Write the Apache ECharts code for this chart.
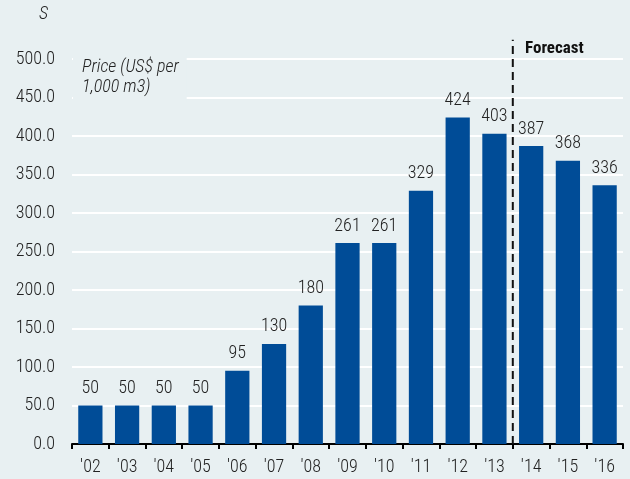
<!DOCTYPE html>
<html>
<head>
<meta charset="utf-8">
<script src="https://cdn.jsdelivr.net/npm/echarts@6/dist/echarts.min.js"></script>
<style>
  html, body { margin: 0; padding: 0; background: #e8f0f2; }
  #chart { width: 630px; height: 479px; }
</style>
</head>
<body>
<div id="chart"></div>
<script>
// gas price, actual to '13 then forecast
const years = ["'02", "'03", "'04", "'05", "'06", "'07", "'08", "'09", "'10", "'11", "'12", "'13", "'14", "'15", "'16"];
const prices = [50, 50, 50, 50, 95, 130, 180, 261, 261, 329, 424, 403, 387, 368, 336];
const priceLabels = ['50', '50', '50', '50', '95', '130', '180', '261', '261', '329', '424', '403', '387', '368', '336'];
const yTicks = [0, 50, 100, 150, 200, 250, 300, 350, 400, 450, 500];
const forecastStart = 12;   // boundary index between '13 and '14
const dashTop = 525;

const fontFam = '"Roboto Condensed", "Liberation Sans", sans-serif';
const bg = '#e8f0f2';
var chart = echarts.init(document.getElementById('chart'));

var option = {
    backgroundColor: bg,
    animation: false,
    grid: { left: 72, right: 7, top: 59, bottom: 35 },
    xAxis: [{
        type: 'category',
        data: years,
        axisLine: { lineStyle: { color: '#000', width: 2 } },
        axisTick: { show: true, length: 5, lineStyle: { color: '#000', width: 2 } },
        axisLabel: { color: '#222', fontSize: 18, fontWeight: 300, fontFamily: fontFam, margin: 14 }
    }, {
        type: 'value',
        min: 0,
        max: years.length,
        show: false
    }],
    yAxis: {
        type: 'value',
        min: yTicks[0],
        max: yTicks[yTicks.length - 1],
        interval: 50,
        axisLine: { show: false },
        axisTick: { show: false },
        splitLine: { lineStyle: { color: '#ffffff', width: 2 } },
        axisLabel: {
            color: '#222', fontSize: 18, fontWeight: 300, fontFamily: fontFam, margin: 17,
            padding: [4, 0, 0, 0],
            formatter: function (v) { return v.toFixed(1); }
        }
    },
    series: [{
        type: 'bar',
        data: prices,
        barWidth: '66%',
        itemStyle: { color: '#004c97' },
        label: {
            show: true,
            position: 'top',
            distance: 8,
            color: '#222',
            fontSize: 18,
            fontWeight: 300,
            fontFamily: fontFam,
            formatter: function (p) { return priceLabels[p.dataIndex]; }
        }
    }, {
        type: 'line',
        xAxisIndex: 1,
        data: []
    }],
    graphic: [{
        id: 'unit', type: 'text', left: 39, top: 5,
        style: { text: 'S', font: 'italic 300 18px ' + fontFam, fill: '#222' }
    }, {
        id: 'note', type: 'text', left: 73, top: 54, z: 5,
        style: {
            text: 'Price (US$ per\n1,000 m3)', font: 'italic 300 18px ' + fontFam, fill: '#222',
            lineHeight: 20, backgroundColor: bg, padding: [3, 8, 5, 9]
        }
    }, {
        id: 'fc', type: 'text', left: 525, top: 40,
        style: { text: 'Forecast', font: 'bold 17px ' + fontFam, fill: '#111' }
    }]
};

chart.setOption(option);

// forecast divider, placed through the axes
var p0 = chart.convertToPixel({ xAxisIndex: 1, yAxisIndex: 0 }, [forecastStart, 0]);
var p1 = chart.convertToPixel({ xAxisIndex: 1, yAxisIndex: 0 }, [forecastStart, dashTop]);
chart.setOption({
    graphic: [{
        id: 'divider',
        type: 'line',
        silent: true,
        shape: { x1: p0[0], y1: p0[1], x2: p1[0], y2: p1[1] },
        style: { stroke: '#111', lineWidth: 2, lineDash: [8, 5] },
        z: 10
    }]
});
</script>
</body>
</html>
